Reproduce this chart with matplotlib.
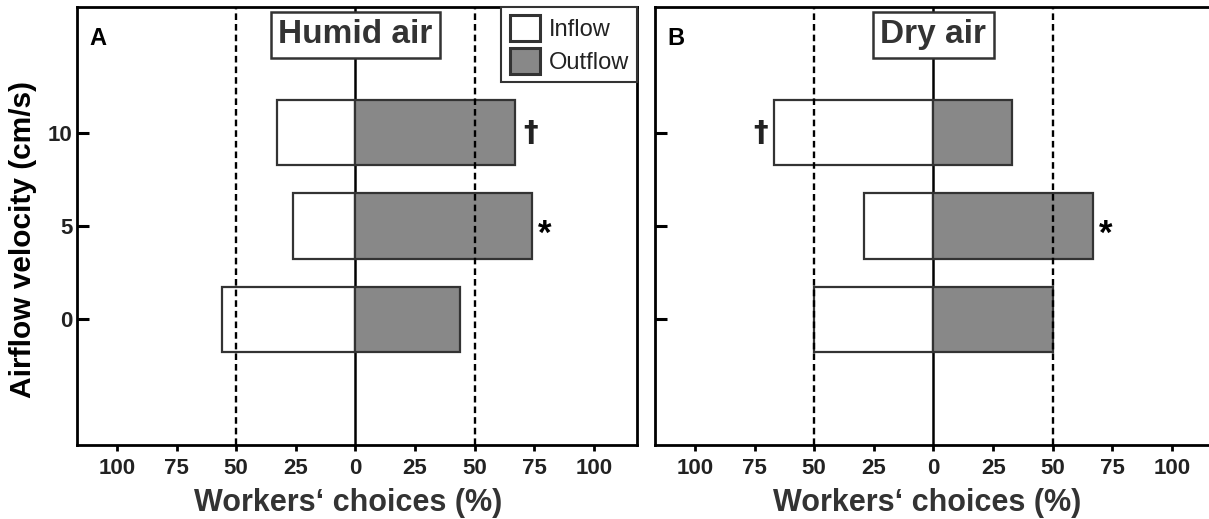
import matplotlib
matplotlib.use("Agg")
import matplotlib.pyplot as plt
from matplotlib.patches import Patch
import matplotlib.transforms as mtransforms

plt.rcParams['font.family'] = ['Liberation Sans', 'DejaVu Sans']

# airflow velocity (cm/s) and the share of workers choosing each side (%)
velocity = [0, 5, 10]
humid_inflow = [56, 26, 33]
humid_outflow = [44, 74, 67]
dry_inflow = [50, 29, 67]
dry_outflow = [50, 67, 33]

xticks = [-100, -75, -50, -25, 0, 25, 50, 75, 100]
xticklabels = ['100', '75', '50', '25', '0', '25', '50', '75', '100']

# significance marks: (velocity, side, symbol)
humid_marks = [(10, 'out', '\u2020'), (5, 'out', '*')]
dry_marks = [(10, 'in', '\u2020'), (5, 'out', '*')]

EDGE = '#333333'
GREY = '#888888'
TXT = '#222222'

fig = plt.figure(figsize=(12.09, 5.19), dpi=100)
axA = fig.add_axes([0.0637, 0.1426, 0.4632, 0.844])
axB = fig.add_axes([0.5418, 0.1426, 0.4632, 0.844])


def draw_panel(ax, inflow, outflow, title, letter, marks, show_ylabels):
    ax.axvline(0, color='black', lw=1.8, zorder=1)
    ax.barh(velocity, [-v for v in inflow], height=3.5, color='white',
            edgecolor=EDGE, lw=1.6, zorder=2)
    ax.barh(velocity, outflow, height=3.5, color=GREY,
            edgecolor=EDGE, lw=1.6, zorder=2)
    for xv in (-50, 50):
        ax.axvline(xv, color='black', lw=1.7, ls=(0, (2.8, 1.7)), zorder=3)

    ax.set_xlim(-116.7, 118)
    ax.set_ylim(-6.75, 16.75)
    ax.set_xticks(xticks)
    ax.set_xticklabels(xticklabels)
    ax.set_yticks(velocity)
    if show_ylabels:
        ax.set_yticklabels([str(v) for v in velocity])
    else:
        ax.set_yticklabels([])

    for side in ('left', 'right', 'top', 'bottom'):
        ax.spines[side].set_linewidth(2)
        ax.spines[side].set_color('black')
    ax.tick_params(axis='x', direction='out', length=4.5, width=2,
                   labelsize=16, pad=5, colors='black', labelcolor=TXT)
    ax.tick_params(axis='y', direction='in', length=8.5, width=2.2,
                   labelsize=16, pad=3, colors='black', labelcolor=TXT)
    for lab in ax.get_xticklabels() + ax.get_yticklabels():
        lab.set_fontweight('bold')

    ax.set_xlabel('Workers\u2018 choices (%)', fontsize=22, fontweight='bold',
                  color='#333333')
    ax.xaxis.set_label_coords(0.485, -0.098)

    trans = mtransforms.blended_transform_factory(ax.transData, ax.transAxes)
    ax.text(0, 0.936, title, transform=trans, ha='center', va='center',
            fontsize=24, fontweight='bold', color='#333333', zorder=6,
            bbox=dict(boxstyle='square,pad=0.22', facecolor='white',
                      edgecolor=EDGE, lw=1.8))
    ax.text(0.022, 0.955, letter, transform=ax.transAxes, ha='left',
            va='top', fontsize=17, fontweight='bold', color='black')

    for v, side, sym in marks:
        i = velocity.index(v)
        if sym == '*':
            ax.text(outflow[i] + 2.5, v - 0.95, sym, ha='left',
                    va='baseline', fontsize=25, fontweight='bold',
                    color='black')
        elif side == 'out':
            ax.text(outflow[i] + 3.5, v, sym, ha='left', va='center',
                    fontsize=21, fontweight='bold', color='#222222',
                    family='DejaVu Sans')
        else:
            ax.text(-inflow[i] - 2.5, v, sym, ha='right', va='center',
                    fontsize=21, fontweight='bold', color='#222222',
                    family='DejaVu Sans')


draw_panel(axA, humid_inflow, humid_outflow, 'Humid air', 'A',
           humid_marks, True)
draw_panel(axB, dry_inflow, dry_outflow, 'Dry air', 'B', dry_marks, False)

axA.set_ylabel('Airflow velocity (cm/s)', fontsize=21.5, fontweight='bold',
               color='black')
axA.yaxis.set_label_coords(-0.072, 0.47)

handles = [Patch(facecolor='white', edgecolor=EDGE, lw=2.2, label='Inflow'),
           Patch(facecolor=GREY, edgecolor=EDGE, lw=2.2, label='Outflow')]
leg = axA.legend(handles=handles, loc='upper right', bbox_to_anchor=(1, 1),
                 borderaxespad=0, fontsize=17, handlelength=1.3,
                 handleheight=1.3, handletextpad=0.35, labelspacing=0.3,
                 borderpad=0.35, fancybox=False, framealpha=1)
leg.get_frame().set_edgecolor(EDGE)
leg.get_frame().set_linewidth(1.5)
for t in leg.get_texts():
    t.set_color(TXT)
leg.set_zorder(7)

fig.savefig('out.png', dpi=100)
